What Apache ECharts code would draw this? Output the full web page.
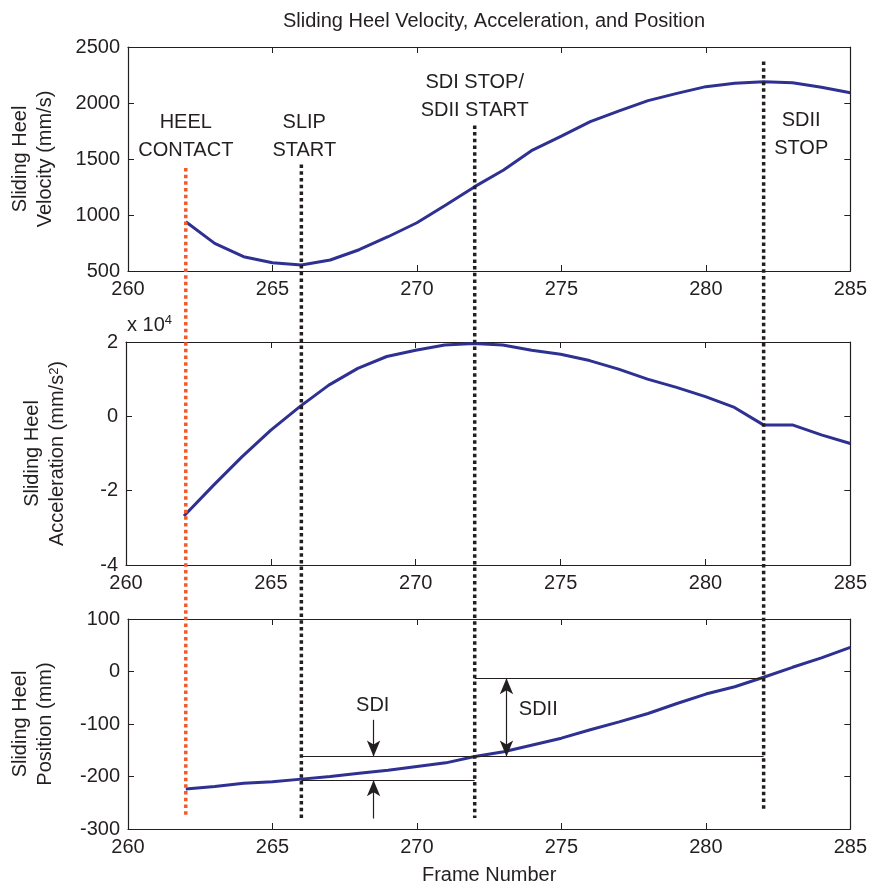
<!DOCTYPE html>
<html>
<head>
<meta charset="utf-8">
<script src="https://cdn.jsdelivr.net/npm/echarts@6/dist/echarts.min.js"></script>
<style>
  html, body { margin: 0; padding: 0; background: #fff; }
  #chart { width: 870px; height: 889px; }
</style>
</head>
<body>
<div id="chart"></div>
<script>
// frame numbers 262..285
const frames = [262, 263, 264, 265, 266, 267, 268, 269, 270, 271, 272, 273,
  274, 275, 276, 277, 278, 279, 280, 281, 282, 283, 284, 285]
// mm/s
const velocity = [940, 747, 628, 574, 554, 598, 690, 806, 931, 1089, 1253, 1402,
  1580, 1705, 1833, 1929, 2021, 2086, 2146, 2176, 2190, 2181, 2140, 2092]
// x 10^4 mm/s^2
const acceleration = [-2.68, -1.87, -1.09, -0.37, 0.26, 0.84, 1.29, 1.61, 1.78, 1.92, 1.96, 1.92,
  1.78, 1.67, 1.50, 1.27, 1.00, 0.78, 0.53, 0.24, -0.23, -0.23, -0.50, -0.73]
// mm
const position = [-224, -219, -213, -210, -205, -200, -194, -188, -181, -174, -162, -153,
  -140, -127, -111, -96, -80, -61, -43, -29, -11, 8, 26, 46]

// event markers: frame, top end (velocity units), bottom end (position units)
const eventFrames = [262, 266, 272, 282]
const eventTops = [1420, 1450, 1800, 2370]
const eventBottoms = [-277, -283, -279, -264]
const eventNames = ['HEEL\nCONTACT', 'SLIP\nSTART', 'SDI STOP/\nSDII START', 'SDII\nSTOP']
const eventLabelPos = [[262, 1705], [266.1, 1700], [272, 2054], [283.3, 1723]]

// SDI / SDII levels (mm)
const sdiTop = -162
const sdiBottom = -207
const sdiiTop = -13
const sdiArrowX = 268.5
const sdiiArrowX = 273.1

const font = 'Liberation Sans, Arial, Helvetica, sans-serif'
const textColor = '#231f20'
const blue = '#2e3192'

const chart = echarts.init(document.getElementById('chart'))

const gridBox = [
  { left: 126, right: 18, top: 47, height: 224 },
  { left: 126, right: 18, top: 342, height: 223 },
  { left: 126, right: 18, top: 619, height: 210 }
]

function xAxis(i, mirror) {
  return {
    type: 'value',
    gridIndex: i,
    position: mirror ? 'top' : 'bottom',
    min: 260,
    max: 285,
    interval: 5,
    axisLine: { show: true, onZero: false, lineStyle: { color: textColor, width: 1.2 } },
    axisTick: { show: true, inside: true, length: 6, lineStyle: { color: textColor } },
    axisLabel: { show: !mirror, margin: 8, fontSize: 20, color: textColor, fontFamily: font },
    splitLine: { show: false }
  }
}

function yAxis(i, min, max, step, mirror) {
  return {
    type: 'value',
    gridIndex: i,
    position: mirror ? 'right' : 'left',
    min: min,
    max: max,
    interval: step,
    axisLine: { show: true, onZero: false, lineStyle: { color: textColor, width: 1.2 } },
    axisTick: { show: true, inside: true, length: 6, lineStyle: { color: textColor } },
    axisLabel: {
      show: !mirror, margin: 8, fontSize: 20, color: textColor, fontFamily: font,
      formatter: v => String(v)
    },
    splitLine: { show: false }
  }
}

const nameStyle = {
  fontSize: 20,
  color: textColor,
  fontFamily: font,
  lineHeight: 25,
  rich: {
    sup: { fontSize: 13, fontFamily: font, color: textColor, verticalAlign: 'bottom', padding: [0, 0, 9, 0] }
  }
}

const xAxes = [0, 1, 2].map(i => xAxis(i, false)).concat([0, 1, 2].map(i => xAxis(i, true)))
xAxes[2].name = 'Frame Number'
xAxes[2].nameLocation = 'middle'
xAxes[2].nameGap = 36
xAxes[2].nameTextStyle = { fontSize: 20, color: textColor, fontFamily: font }

const yAxes = [
  yAxis(0, 500, 2500, 500, false),
  yAxis(1, -4, 2, 2, false),
  yAxis(2, -300, 100, 100, false),
  yAxis(0, 500, 2500, 500, true),
  yAxis(1, -4, 2, 2, true),
  yAxis(2, -300, 100, 100, true)
]
const yNames = ['Sliding Heel\nVelocity (mm/s)', 'Sliding Heel\nAcceleration (mm/s{sup|2})', 'Sliding Heel\nPosition (mm)']
const yGaps = [70, 56, 70]
yNames.forEach((n, i) => {
  Object.assign(yAxes[i], {
    name: n,
    nameLocation: 'middle',
    nameRotate: 90,
    nameGap: yGaps[i],
    nameTextStyle: nameStyle
  })
})

function curve(i, values) {
  return {
    type: 'line',
    xAxisIndex: i,
    yAxisIndex: i,
    data: frames.map((f, k) => [f, values[k]]),
    symbol: 'none',
    smooth: false,
    lineStyle: { color: blue, width: 3 },
    z: 3
  }
}

const thin = { color: textColor, width: 1.2, type: 'solid', opacity: 1 }

const posSeries = curve(2, position)
posSeries.markLine = {
  silent: true,
  animation: false,
  label: { show: false },
  lineStyle: thin,
  itemStyle: { color: textColor },
  symbol: ['none', 'none'],
  data: [
    [{ coord: [eventFrames[1], sdiTop] }, { coord: [eventFrames[3], sdiTop] }],
    [{ coord: [eventFrames[1], sdiBottom] }, { coord: [eventFrames[2], sdiBottom] }],
    [{ coord: [eventFrames[2], sdiiTop] }, { coord: [eventFrames[3], sdiiTop] }],
    [{ coord: [sdiArrowX, -92], symbol: 'none' }, { coord: [sdiArrowX, sdiTop], symbol: 'arrow', symbolSize: [10, 16] }],
    [{ coord: [sdiArrowX, -280], symbol: 'none' }, { coord: [sdiArrowX, sdiBottom], symbol: 'arrow', symbolSize: [10, 16] }],
    [{ coord: [sdiiArrowX, sdiTop], symbol: 'arrow', symbolSize: [10, 16] }, { coord: [sdiiArrowX, sdiiTop], symbol: 'arrow', symbolSize: [10, 16] }]
  ]
}

function labels(i, items) {
  return {
    type: 'scatter',
    xAxisIndex: i,
    yAxisIndex: i,
    symbolSize: 0,
    silent: true,
    clip: false,
    itemStyle: { opacity: 1, color: textColor },
    data: items.map(it => ({ value: [it[0], it[1]], name: it[2] })),
    label: {
      show: true,
      position: 'inside',
      formatter: p => p.name,
      fontSize: 20,
      lineHeight: 28,
      color: textColor,
      opacity: 1,
      fontFamily: font,
      align: 'center'
    },
    z: 5
  }
}

const option = {
  animation: false,
  title: {
    text: 'Sliding Heel Velocity, Acceleration, and Position',
    left: 489,
    textAlign: 'center',
    top: 6,
    textStyle: { fontSize: 20, fontWeight: 'normal', color: textColor, fontFamily: font }
  },
  grid: gridBox,
  xAxis: xAxes,
  yAxis: yAxes,
  series: [
    curve(0, velocity),
    curve(1, acceleration),
    posSeries,
    labels(0, eventNames.map((n, k) => [eventLabelPos[k][0], eventLabelPos[k][1], n])),
    labels(2, [[268.47, -64, 'SDI'], [274.2, -73, 'SDII']])
  ]
}

chart.setOption(option)

// dotted event lines spanning all three panels
const colors = ['#f15a29', textColor, textColor, textColor]
const graphics = eventFrames.map((f, k) => {
  const x = chart.convertToPixel({ xAxisIndex: 0 }, f)
  const y1 = chart.convertToPixel({ yAxisIndex: 0 }, eventTops[k])
  const y2 = chart.convertToPixel({ yAxisIndex: 2 }, eventBottoms[k])
  return {
    type: 'line',
    z: 100,
    silent: true,
    shape: { x1: x, y1: y1, x2: x, y2: y2 },
    style: { stroke: colors[k], lineWidth: 3.5, lineDash: [3.5, 3.2] }
  }
})
const corner = chart.convertToPixel({ gridIndex: 1 }, [260, 2])
graphics.push({
  type: 'text',
  z: 100,
  silent: true,
  x: corner[0] + 1,
  y: corner[1] - 6,
  style: {
    text: 'x 10{sup|4}',
    fontSize: 20,
    fontFamily: font,
    fill: textColor,
    verticalAlign: 'bottom',
    rich: { sup: { fontSize: 13, fontFamily: font, fill: textColor, verticalAlign: 'bottom', padding: [0, 0, 9, 0] } }
  }
})
chart.setOption({ graphic: graphics })
</script>
</body>
</html>
